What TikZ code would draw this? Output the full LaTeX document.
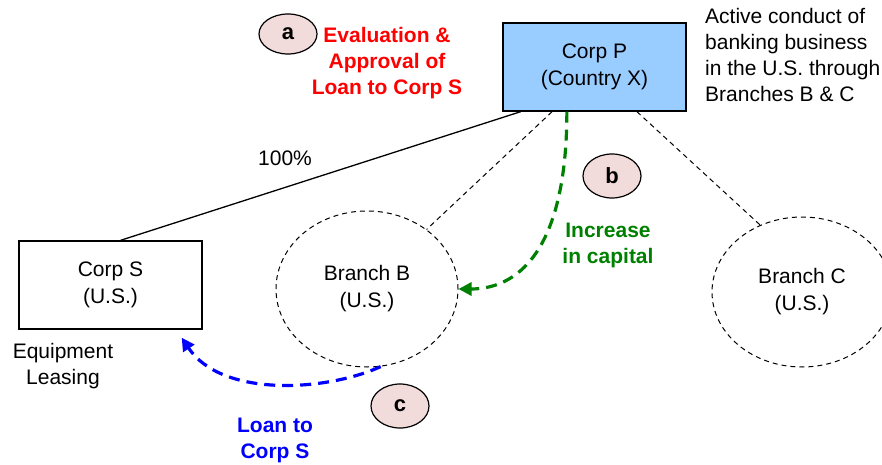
\documentclass[tikz,border=0pt]{standalone}
\usepackage{fontspec}
\setmainfont{Liberation Sans}
\usepackage{tikz}
\usetikzlibrary{arrows.meta, calc, shapes.geometric}
\definecolor{PBlue}  {HTML}{99CCFF}
\definecolor{TagF}   {HTML}{F2DCDB}
\definecolor{EvalR}  {HTML}{FF0000}
\definecolor{CapG}   {HTML}{008000}
\definecolor{LoanB}  {HTML}{0000FF}
\tikzset{
  ent/.style args={#1}{
    rectangle, draw=black, fill=#1,
    font=\fontsize{21}{27}\selectfont, align=center,
    line width=1.3pt, inner sep=0pt,
  },
  brn/.style={
    ellipse, draw=black, dash pattern=on 5pt off 4pt,
    font=\fontsize{21}{27}\selectfont, align=center,
    line width=1pt, inner sep=0pt,
    minimum width=182pt, minimum height=156pt,
  },
  tag/.style={
    ellipse, draw=black, fill=TagF, line width=1.2pt,
    font=\fontsize{22}{26}\selectfont\bfseries,
    minimum width=58pt, minimum height=44pt, inner sep=0pt,
  },
  note/.style args={#1}{
    font=\fontsize{21}{26}\selectfont\bfseries, text=#1,
    align=center, inner sep=0pt,
  },
  txt/.style={
    font=\fontsize{21}{26}\selectfont, inner sep=0pt,
  },
  lnk/.style={line width=1pt, dash pattern=on 5pt off 4pt},
  flow/.style args={#1}{
    -{Triangle[length=13pt,width=13pt]},
    line width=3.2pt, color=#1, dash pattern=on 11pt off 7pt,
  },
}
\begin{document}
\begin{tikzpicture}[x=1pt,y=-1pt]
    \useasboundingbox (0,0) rectangle (882,465);
    % entities
    \node[ent=PBlue,minimum width=183pt,minimum height=88pt] (corpP) at (594.5,67) {Corp P\\(Country X)};
    \node[ent=white,minimum width=183pt,minimum height=88pt] (corpS) at (110.5,285) {Corp S\\(U.S.)};
    \node[brn] (brB) at (367,289) {Branch B\\(U.S.)};
    \node[brn,minimum width=180pt,minimum height=150pt] (brC) at (802,292) {Branch C\\(U.S.)};
    % ownership and branch links
    \draw[line width=1.3pt] ($(corpS.north)+(10,0)$) -- ($(corpP.south west)!0.1!(corpP.south east)$);
    \draw[lnk] ($(corpP.south west)!0.27!(corpP.south east)$) -- (brB.45);
    \draw[lnk] ($(corpP.south west)!0.73!(corpP.south east)$) -- (brC.122);
    \node[txt] (own) at (285,158) {100\%};
    % steps
    \coordinate (capS) at ($(corpP.south west)!0.35!(corpP.south east)$);
    \draw[flow=CapG] (capS) .. controls ($(capS)+(0,130)$) and ($(brB.east)+(65,0)$) .. (brB.east);
    \coordinate (loanE) at ($(corpS.south east)+(-21,8)$);
    \draw[flow=LoanB] (brB.-80) .. controls ($(brB.-80)+(-55,25)$) and ($(loanE)+(40,60)$) .. (loanE);
    \node[tag,minimum height=40pt] (tagA) at (288,34) {a};
    \node[tag] (tagB) at (612,176) {b};
    \node[tag] (tagC) at (400,406) {c};
    \node[note=EvalR] (eval) at (387,63) {Evaluation \&\\Approval of\\Loan to Corp S};
    \node[note=CapG] (incr) at (608,245) {Increase\\in capital};
    \node[note=LoanB] (loan) at (275,440) {Loan to\\Corp S};
    \node[txt,align=left,anchor=north west] (active) at (705,8) {Active conduct of\\banking business\\in the U.S. through\\Branches B \& C};
    \node[txt,align=center] (lease) at (63,366) {Equipment\\Leasing};
  \end{tikzpicture}
\end{document}
